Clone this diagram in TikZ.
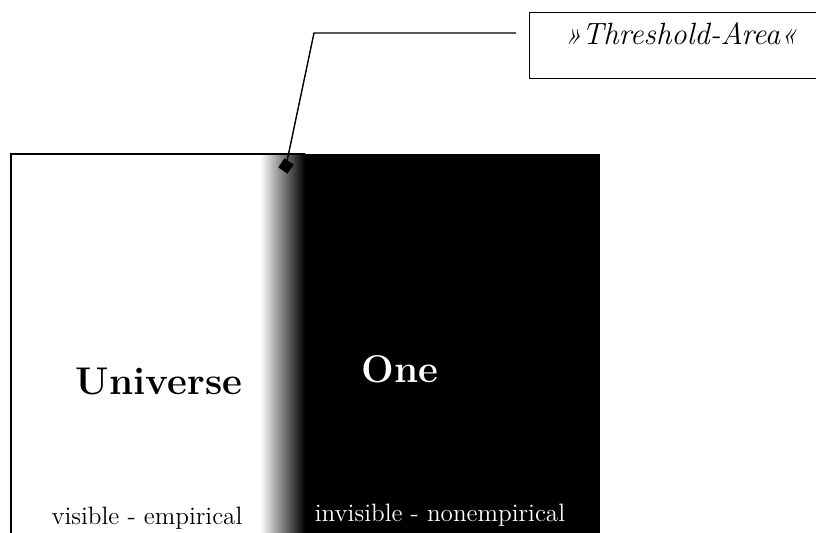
\documentclass[tikz,border=0pt]{standalone}
\usepackage{tikz}
\usetikzlibrary{shapes.geometric}

\tikzset{
  frameline/.style={line width=0.8pt},
  bigword/.style={font=\bfseries\fontsize{22}{25}\selectfont},
  smallword/.style={font=\fontsize{14.3}{16}\selectfont},
  tagbox/.style={draw, line width=0.8pt, anchor=north west, inner sep=0pt},
  marker/.style={diamond, fill=black, inner sep=0pt, minimum size=0.32cm, rotate=10}
}

\begin{document}
\begin{tikzpicture}[x=0.02cm, y=-0.02cm]
  \clip (0,0) rectangle (816,533);
  \fill[white] (0,0) rectangle (816,533);
  % ---------------- FIELDS ----------------
  \coordinate (TL) at (11,154);
  \coordinate (G1) at (260,154);
  \coordinate (G2) at (305,154);
  \coordinate (TR) at (600,154);
  \shade[left color=white, right color=black] (G1) rectangle (305,540);
  \fill[black] (G2) rectangle (600,540);
  \draw[frameline] (11,540) -- (TL) -- (G2);
  \node[bigword] (universe) at (159,381) {Universe};
  \node[bigword, text=white] (one) at (400,369) {One};
  \node[smallword] (visible) at (147,518) {visible - empirical};
  \node[smallword, text=white] (invisible) at (440,515) {invisible - nonempirical};
  % ---------------- CALLOUT ----------------
  \node[tagbox, minimum width=6cm, minimum height=1.32cm] (tag) at (529,12) {};
  \node[font=\itshape\fontsize{17.5}{20}\selectfont] (tagtext) at (681,34) {\guillemotright Threshold-Area\guillemotleft};
  \coordinate (lead) at (516,33);
  \coordinate (bend) at (314,33);
  \node[marker] (spot) at (286,166) {};
  \draw[frameline] (lead) -- (bend) -- (spot.center);
\end{tikzpicture}
\end{document}
